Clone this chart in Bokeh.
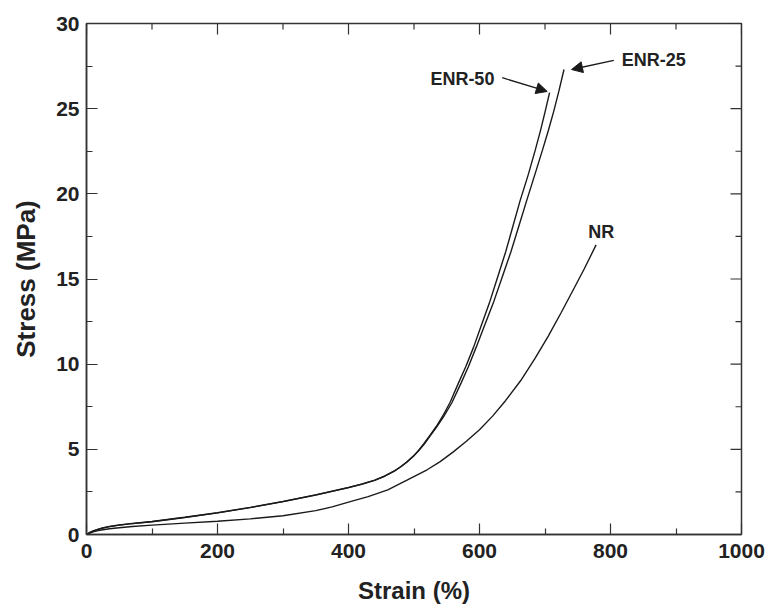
import math
from bokeh.plotting import figure
from bokeh.models import Range1d, FixedTicker, Arrow, NormalHead, ColumnDataSource
from bokeh.core.properties import value
from bokeh.embed import file_html
from bokeh.resources import INLINE

# ---- data ----
enr25_strain = [0, 5, 10, 18, 25, 35, 50, 70, 100, 150, 200, 250, 300, 350, 400, 420, 440, 455,
                470, 480, 490, 500, 507, 516, 525, 535, 545, 558, 572, 583, 595, 608, 622, 635,
                648, 660, 672, 684, 696, 705, 713, 721, 729]
enr25_stress = [0, 0.11, 0.2, 0.3, 0.38, 0.46, 0.55, 0.64, 0.75, 1.0, 1.27, 1.58, 1.93, 2.32, 2.75,
                2.95, 3.18, 3.42, 3.72, 3.98, 4.28, 4.63, 4.92, 5.33, 5.8, 6.34, 6.9, 7.75, 8.9,
                9.85, 11.0, 12.3, 13.7, 15.15, 16.6, 18.1, 19.6, 21.07, 22.55, 23.7, 24.8, 26.0,
                27.3]

enr50_strain = [0, 5, 10, 18, 25, 35, 50, 70, 100, 150, 200, 250, 300, 350, 400, 420, 440, 455,
                470, 480, 490, 500, 507, 515, 524, 534, 543, 555, 568, 579, 591, 603, 616, 628,
                640, 651, 662, 674, 685, 693, 700, 707]
enr50_stress = [0, 0.12, 0.21, 0.31, 0.39, 0.47, 0.56, 0.65, 0.76, 1.01, 1.28, 1.59, 1.94, 2.33,
                2.76, 2.96, 3.19, 3.43, 3.73, 3.99, 4.29, 4.64, 4.93, 5.33, 5.8, 6.34, 6.9, 7.75,
                8.9, 9.85, 11.0, 12.3, 13.7, 15.15, 16.6, 18.1, 19.6, 21.07, 22.55, 23.7, 24.8,
                25.94]

nr_strain = [0, 5, 10, 18, 25, 35, 50, 70, 100, 150, 200, 250, 300, 350, 375, 400, 430, 460,
             490, 520, 540, 560, 580, 600, 620, 640, 663, 685, 705, 725, 745, 760, 778]
nr_stress = [0, 0.08, 0.15, 0.23, 0.28, 0.34, 0.4, 0.47, 0.55, 0.67, 0.78, 0.92, 1.1, 1.4, 1.62,
             1.9, 2.22, 2.62, 3.2, 3.8, 4.28, 4.85, 5.47, 6.15, 6.95, 7.87, 9.04, 10.35, 11.65,
             13.05, 14.5, 15.6, 17.0]

x_major_ticks = [0, 200, 400, 600, 800, 1000]
x_minor_ticks = [100, 300, 500, 700, 900]
y_major_ticks = [0, 5, 10, 15, 20, 25, 30]
y_minor_ticks = [2.5, 7.5, 12.5, 17.5, 22.5, 27.5]

label_text = ["ENR-25", "ENR-50", "NR"]
label_x = [817, 525, 766]
label_y = [27.87, 26.76, 17.73]

arrow_x_start = [805, 634.6]
arrow_y_start = [27.83, 26.82]
arrow_x_end = [740.5, 703.4]
arrow_y_end = [27.30, 26.01]

x_title = "Strain (%)"
y_title = "Stress (MPa)"

# ---- figure ----
INK = "#1a1a1a"
FRAME = "#333333"
TXT = "#222222"
FONT = "Liberation Sans"
X0, X1, Y0, Y1 = 0, 1000, 0, 30

p = figure(width=768, height=608, x_range=Range1d(X0, X1), y_range=Range1d(Y0, Y1),
           output_backend="svg", toolbar_location=None,
           min_border_left=86, min_border_right=27, min_border_top=23, min_border_bottom=74)
p.background_fill_color = "white"
p.border_fill_color = "white"
p.xgrid.visible = False
p.ygrid.visible = False
p.outline_line_color = FRAME
p.outline_line_width = 1.5

p.xaxis.ticker = FixedTicker(ticks=x_major_ticks, minor_ticks=x_minor_ticks)
p.yaxis.ticker = FixedTicker(ticks=y_major_ticks, minor_ticks=y_minor_ticks)
for ax in (p.xaxis[0], p.yaxis[0]):
    ax.axis_line_color = FRAME
    ax.axis_line_width = 1.5
    ax.major_tick_line_color = FRAME
    ax.minor_tick_line_color = FRAME
    ax.major_tick_line_width = 1.2
    ax.minor_tick_line_width = 1.2
    ax.major_tick_in = 11
    ax.major_tick_out = 0
    ax.minor_tick_in = 6
    ax.minor_tick_out = 0
    ax.major_label_text_font = FONT
    ax.major_label_text_font_style = "bold"
    ax.major_label_text_color = TXT
    ax.major_label_text_font_size = "21px"
    ax.axis_label_text_font = FONT
    ax.axis_label_text_font_style = "bold"
    ax.axis_label_text_color = TXT
p.xaxis.axis_label_text_font_size = "24px"
p.yaxis.axis_label_text_font_size = "26px"
p.xaxis.major_label_standoff = 9
p.yaxis.major_label_standoff = 7
p.xaxis.axis_label = x_title
p.yaxis.axis_label = y_title
p.xaxis.axis_label_standoff = 16
p.yaxis.axis_label_standoff = 12

# ticks on the top and right frame edges (half of each dash is clipped by the frame)
p.scatter(x_major_ticks, [Y1] * len(x_major_ticks), marker="dash", size=22, angle=math.pi / 2,
          line_color=FRAME, line_width=1.2)
p.scatter(x_minor_ticks, [Y1] * len(x_minor_ticks), marker="dash", size=12, angle=math.pi / 2,
          line_color=FRAME, line_width=1.2)
p.scatter([X1] * len(y_major_ticks), y_major_ticks, marker="dash", size=22,
          line_color=FRAME, line_width=1.2)
p.scatter([X1] * len(y_minor_ticks), y_minor_ticks, marker="dash", size=12,
          line_color=FRAME, line_width=1.2)

# ---- curves ----
p.line(enr25_strain, enr25_stress, line_color=INK, line_width=1.4)
p.line(enr50_strain, enr50_stress, line_color=INK, line_width=1.4)
p.line(nr_strain, nr_stress, line_color=INK, line_width=1.4)

# ---- annotations ----
lab_src = ColumnDataSource(dict(x=label_x, y=label_y, t=label_text))
p.text(x="x", y="y", text="t", source=lab_src, text_font=value(FONT),
       text_font_style="bold", text_font_size="18px", text_color=TXT,
       text_align="left", text_baseline="middle")

for xs, ys, xe, ye in zip(arrow_x_start, arrow_y_start, arrow_x_end, arrow_y_end):
    p.add_layout(Arrow(end=NormalHead(size=11, fill_color=INK, line_color=INK, line_width=1),
                       x_start=xs, y_start=ys, x_end=xe, y_end=ye,
                       line_color=INK, line_width=1.3))

open("out.html", "w").write(file_html(p, INLINE))
